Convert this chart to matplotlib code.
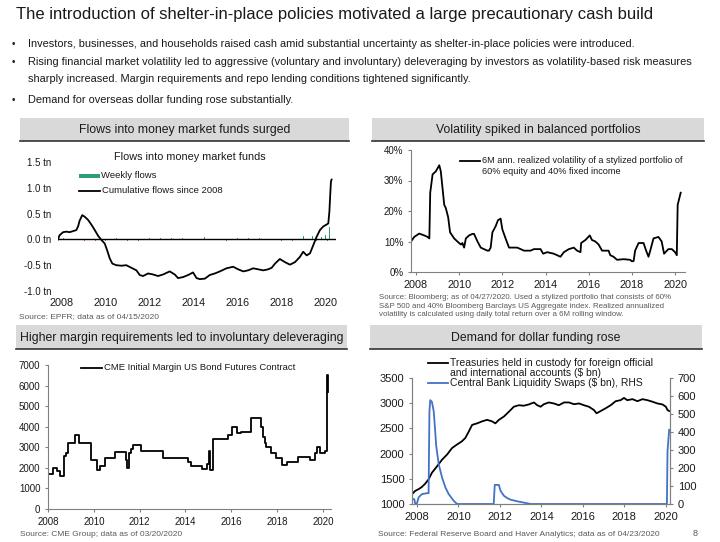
import numpy as np
import matplotlib
matplotlib.use('Agg')
import matplotlib.pyplot as plt
from matplotlib import font_manager
from matplotlib.lines import Line2D
from matplotlib.patches import Rectangle

#########################################################################
# data
#########################################################################

# flows into money market funds, cumulative since 2008 ($ tn)
flow_years = [2007.85, 2007.92, 2008.08, 2008.23, 2008.38, 2008.53, 2008.68, 2008.76, 2008.83, 2008.95,
              2009.06, 2009.21, 2009.36, 2009.52, 2009.67, 2009.82, 2009.97, 2010.08, 2010.20, 2010.32,
              2010.50, 2010.73, 2010.95, 2011.18, 2011.41, 2011.56, 2011.71, 2011.94, 2012.17, 2012.39,
              2012.62, 2012.92, 2013.15, 2013.30, 2013.53, 2013.76, 2013.98, 2014.14, 2014.29, 2014.52,
              2014.74, 2014.97, 2015.20, 2015.50, 2015.80, 2016.03, 2016.26, 2016.48, 2016.71, 2016.94,
              2017.17, 2017.39, 2017.55, 2017.70, 2017.92, 2018.15, 2018.38, 2018.61, 2018.83, 2018.98,
              2019.14, 2019.29, 2019.44, 2019.59, 2019.74, 2019.89, 2020.05, 2020.12, 2020.17, 2020.20,
              2020.24, 2020.27]
flow_cum = [0.00, 0.08, 0.14, 0.15, 0.14, 0.16, 0.18, 0.25, 0.36, 0.47,
            0.44, 0.38, 0.29, 0.18, 0.07, -0.01, -0.08, -0.21, -0.37, -0.47,
            -0.50, -0.51, -0.50, -0.55, -0.60, -0.69, -0.71, -0.66, -0.68, -0.71,
            -0.68, -0.62, -0.68, -0.75, -0.73, -0.69, -0.64, -0.75, -0.77, -0.76,
            -0.69, -0.66, -0.62, -0.56, -0.53, -0.58, -0.62, -0.60, -0.56, -0.58,
            -0.60, -0.58, -0.55, -0.47, -0.38, -0.44, -0.49, -0.44, -0.34, -0.24,
            -0.31, -0.27, -0.11, 0.05, 0.18, 0.25, 0.29, 0.31, 0.54, 0.80,
            1.12, 1.16]

# weekly flows ($ tn)
weekly_years = [2008.10, 2008.35, 2008.55, 2008.80, 2009.05, 2009.30, 2009.55, 2009.80, 2010.00, 2010.25,
                2010.50, 2010.75, 2011.00, 2011.25, 2011.50, 2011.75, 2012.00, 2012.25, 2012.50, 2012.75,
                2013.00, 2013.25, 2013.50, 2013.75, 2014.00, 2014.25, 2014.50, 2014.75, 2015.00, 2015.25,
                2015.50, 2015.75, 2016.00, 2016.25, 2016.50, 2016.75, 2017.00, 2017.25, 2017.50, 2017.75,
                2018.00, 2018.25, 2018.50, 2018.75, 2019.00, 2019.20, 2019.40, 2019.60, 2019.80, 2020.00,
                2020.10, 2020.18, 2020.24]
weekly_flows = [0.03, 0.02, -0.02, 0.04, -0.03, -0.02, -0.03, -0.04, -0.03, -0.02,
                0.02, -0.02, -0.03, 0.02, -0.03, 0.03, 0.02, -0.03, 0.02, -0.02,
                0.03, -0.04, 0.02, 0.03, -0.02, 0.02, 0.04, 0.03, -0.02, 0.02,
                -0.03, 0.03, 0.02, -0.02, 0.03, -0.02, 0.03, 0.02, -0.02, 0.03,
                -0.03, 0.04, -0.03, 0.05, 0.06, -0.03, 0.07, -0.04, 0.05, 0.08,
                -0.03, 0.25, 0.15]

# 6M annualized realized volatility of a 60/40 portfolio (%)
vol_years = [2007.77, 2007.92, 2008.15, 2008.38, 2008.54, 2008.62, 2008.66, 2008.77, 2008.92, 2009.08,
             2009.15, 2009.31, 2009.38, 2009.49, 2009.58, 2009.77, 2009.92, 2010.08, 2010.15, 2010.23,
             2010.31, 2010.46, 2010.62, 2010.69, 2010.85, 2011.00, 2011.15, 2011.31, 2011.38, 2011.46,
             2011.54, 2011.69, 2011.80, 2011.92, 2012.00, 2012.15, 2012.31, 2012.46, 2012.69, 2012.85,
             2013.00, 2013.31, 2013.46, 2013.77, 2013.89, 2014.08, 2014.38, 2014.54, 2014.69, 2014.85,
             2015.08, 2015.31, 2015.46, 2015.62, 2015.65, 2015.85, 2016.05, 2016.15, 2016.31, 2016.46,
             2016.62, 2016.92, 2017.00, 2017.15, 2017.31, 2017.62, 2017.92, 2018.00, 2018.08, 2018.15,
             2018.31, 2018.54, 2018.66, 2018.77, 2018.85, 2019.00, 2019.23, 2019.38, 2019.49, 2019.69,
             2019.85, 2020.00, 2020.08, 2020.12, 2020.26]
vol_pct = [10.0, 11.5, 12.6, 12.0, 11.5, 11.0, 26.0, 32.0, 33.0, 35.0,
           33.0, 22.0, 21.0, 18.0, 13.0, 11.0, 10.0, 9.0, 9.5, 8.0,
           11.0, 12.0, 12.5, 12.5, 10.0, 8.0, 7.5, 7.0, 7.0, 8.0,
           13.0, 15.0, 17.0, 17.5, 14.0, 11.0, 8.0, 8.0, 8.0, 7.5,
           7.0, 7.0, 7.5, 7.5, 6.0, 6.5, 6.0, 5.5, 5.0, 6.5,
           7.5, 8.0, 7.0, 6.5, 9.5, 10.5, 12.0, 10.5, 10.0, 9.0,
           7.0, 7.0, 5.5, 5.0, 4.0, 4.2, 4.0, 3.5, 3.6, 7.0,
           9.5, 9.5, 7.0, 5.0, 7.0, 11.0, 11.5, 10.0, 6.0, 7.5,
           7.5, 6.5, 5.5, 22.0, 26.0]

# CME initial margin, US bond futures contract ($), step changes
margin_years = [2008.00, 2008.20, 2008.38, 2008.52, 2008.70, 2008.77, 2008.89, 2009.18, 2009.35, 2009.86,
                2010.12, 2010.27, 2010.50, 2010.92, 2011.39, 2011.43, 2011.52, 2011.62, 2011.72, 2012.06,
                2013.00, 2014.12, 2014.22, 2014.70, 2014.92, 2015.01, 2015.06, 2015.18, 2015.86, 2016.04,
                2016.23, 2016.43, 2016.84, 2017.29, 2017.39, 2017.46, 2017.53, 2017.75, 2017.97, 2018.23,
                2018.41, 2018.92, 2019.42, 2019.64, 2019.72, 2019.86, 2020.08, 2020.17, 2020.19, 2020.21]
margin_usd = [1700, 2000, 1850, 1600, 2600, 2700, 3200, 3600, 3200, 2400,
              1900, 2100, 2500, 2750, 2400, 2000, 2700, 2900, 3100, 2800,
              2500, 2300, 2100, 1950, 2200, 2800, 1900, 3400, 3600, 4000,
              3700, 3750, 4400, 4000, 3500, 3200, 3000, 2700, 2500, 2150,
              2300, 2550, 2400, 2700, 3000, 2700, 2800, 5700, 6500, 5700]

# treasuries held in custody for foreign official and international accounts ($ bn)
tsy_years = [2007.76, 2007.92, 2008.08, 2008.24, 2008.40, 2008.56, 2008.72, 2008.97, 2009.21, 2009.45,
             2009.69, 2009.93, 2010.17, 2010.33, 2010.50, 2010.66, 2010.90, 2011.14, 2011.38, 2011.62,
             2011.78, 2011.95, 2012.19, 2012.43, 2012.67, 2012.91, 2013.15, 2013.39, 2013.64, 2013.80,
             2013.96, 2014.12, 2014.36, 2014.60, 2014.84, 2015.09, 2015.33, 2015.57, 2015.81, 2016.05,
             2016.29, 2016.53, 2016.66, 2016.86, 2017.10, 2017.34, 2017.58, 2017.82, 2017.98, 2018.14,
             2018.39, 2018.63, 2018.87, 2019.11, 2019.35, 2019.59, 2019.84, 2020.00, 2020.08, 2020.16]
tsy_bn = [1196, 1262, 1295, 1340, 1405, 1490, 1620, 1750, 1880, 1980,
          2110, 2180, 2245, 2310, 2440, 2570, 2600, 2640, 2670, 2640,
          2600, 2670, 2735, 2830, 2930, 2960, 2950, 2975, 3015, 2960,
          2930, 2980, 3015, 2995, 2960, 3015, 3015, 2980, 2995, 2960,
          2930, 2865, 2800, 2845, 2900, 2960, 3040, 3060, 3105, 3060,
          3080, 3040, 3080, 3060, 3030, 2995, 2975, 2930, 2865, 2845]

# central bank liquidity swaps ($ bn, right axis)
swap_years = [2007.76, 2007.87, 2007.92, 2008.00, 2008.08, 2008.24, 2008.48, 2008.56, 2008.60, 2008.64,
              2008.72, 2008.81, 2008.93, 2009.05, 2009.21, 2009.37, 2009.53, 2009.77, 2009.93, 2011.70,
              2011.75, 2011.95, 2012.03, 2012.19, 2012.35, 2012.51, 2012.83, 2013.31, 2013.48, 2020.05,
              2020.08, 2020.16]
swap_bn = [27, 27, 0, 4, 37, 55, 60, 60, 513, 577,
           568, 513, 320, 220, 147, 92, 55, 18, 0, 0,
           106, 106, 73, 46, 33, 24, 15, 4, 0, 0,
           293, 412]

year_ticks = [2008, 2010, 2012, 2014, 2016, 2018, 2020]
flow_ticks = [-1.0, -0.5, 0.0, 0.5, 1.0, 1.5]
flow_tick_labels = ['-1.0 tn', '-0.5 tn', '0.0 tn', '0.5 tn', '1.0 tn', '1.5 tn']
vol_ticks = [0, 10, 20, 30, 40]
vol_tick_labels = ['0%', '10%', '20%', '30%', '40%']

title = 'The introduction of shelter-in-place policies motivated a large precautionary cash build'
bullets = ['Investors, businesses, and households raised cash amid substantial uncertainty as shelter-in-place policies were introduced.',
           'Rising financial market volatility led to aggressive (voluntary and involuntary) deleveraging by investors as volatility-based risk measures',
           'sharply increased. Margin requirements and repo lending conditions tightened significantly.',
           'Demand for overseas dollar funding rose substantially.']

#########################################################################
# style
#########################################################################

installed = set(f.name for f in font_manager.fontManager.ttflist)
if 'Liberation Sans Narrow' in installed:
    base_font, k = 'Liberation Sans Narrow', 1.2
else:
    base_font, k = 'Liberation Sans', 1.0
plt.rcParams['font.family'] = [base_font, 'DejaVu Sans']
plt.rcParams['axes.unicode_minus'] = False

ink = '#1a1a1a'
grey_txt = '#595959'
spine_col = '#808080'
blue = '#4472c4'
green = '#2e9e72'
red = '#d9534f'

W, H = 720.0, 542.0

def fx(x):
    return x / W

def fy(y):
    return 1 - y / H

def box(l, t, r, b):
    return [l / W, 1 - b / H, (r - l) / W, (b - t) / H]

fig = plt.figure(figsize=(7.2, 5.42), dpi=100)

def header(l, t, r, b, text):
    fig.add_artist(Rectangle((fx(l), fy(b)), fx(r) - fx(l), fy(t) - fy(b), transform=fig.transFigure,
                             facecolor='#d9d9d9', edgecolor='none'))
    fig.add_artist(Line2D([fx(l), fx(r)], [fy(b), fy(b)], transform=fig.transFigure, color='#333333', lw=1.2))
    fig.text(fx((l + r) / 2), fy((t + b) / 2 + 0.5), text, ha='center', va='center', fontsize=8.8 * k, color=ink)

def key(x0, x1, y, color, text, size=6.8, spacing=1.05):
    fig.add_artist(Line2D([fx(x0), fx(x1)], [fy(y), fy(y)], transform=fig.transFigure, color=color, lw=1.3))
    fig.text(fx(x1 + 2), fy(y - 5), text, va='top', fontsize=size * k, color=ink, linespacing=spacing)

def axis_style(ax, sides=('left', 'bottom'), xsize=7.8, ysize=7.0):
    for s in ['left', 'right', 'top', 'bottom']:
        ax.spines[s].set_visible(s in sides)
        ax.spines[s].set_color(spine_col)
        ax.spines[s].set_linewidth(0.8)
    ax.tick_params(direction='out', length=2.5, width=0.8, color=spine_col,
                   labelcolor=ink, pad=3)
    ax.tick_params(axis='x', labelsize=xsize * k)
    ax.tick_params(axis='y', labelsize=ysize * k)
    ax.set_xticks(year_ticks)
    ax.patch.set_alpha(0)

#########################################################################
# title and bullets
#########################################################################

fig.text(fx(16), fy(15), title, va='center', fontsize=12 * k, color=ink)
bullet_y = [44, 62, 79, 100]
for i, (line, y) in enumerate(zip(bullets, bullet_y)):
    if i != 2:
        fig.text(fx(12), fy(y), u'\u2022', va='center', fontsize=7 * k, color=ink)
    fig.text(fx(28), fy(y), line, va='center', fontsize=7.95 * k, color=ink)

#########################################################################
# top left: money market fund flows
#########################################################################

header(20, 118, 349, 141, 'Flows into money market funds surged')
ax1 = fig.add_axes(box(58, 162, 336, 291))
axis_style(ax1, sides=())
ax1.tick_params(length=0, pad=5)
bar_cols = [green if v > 0 else red for v in weekly_flows]
ax1.bar(weekly_years, weekly_flows, width=0.035, color=bar_cols, linewidth=0, zorder=2)
ax1.axhline(0, color='black', lw=1.0, zorder=3)
ax1.plot(flow_years, flow_cum, color='black', lw=1.3, zorder=4)
ax1.set_xlim(2007.85, 2020.47)
ax1.set_ylim(-1.0, 1.5)
ax1.set_yticks(flow_ticks)
ax1.set_yticklabels(flow_tick_labels)
fig.text(fx(190), fy(157), 'Flows into money market funds', ha='center', va='center', fontsize=7.8 * k, color=ink)
fig.add_artist(Rectangle((fx(79), fy(178)), fx(21), fy(174) - fy(178), transform=fig.transFigure,
                         facecolor=green, edgecolor='none'))
fig.text(fx(101), fy(176), 'Weekly flows', va='center', fontsize=6.8 * k, color=ink)
key(79, 100, 191, 'black', 'Cumulative flows since 2008')
fig.text(fx(19), fy(317), 'Source: EPFR; data as of 04/15/2020', va='center', fontsize=6 * k, color=grey_txt)

#########################################################################
# top right: balanced portfolio volatility
#########################################################################

header(372, 118, 704, 141, 'Volatility spiked in balanced portfolios')
ax2 = fig.add_axes(box(411, 150, 685, 272))
axis_style(ax2)
ax2.plot(vol_years, vol_pct, color='black', lw=1.3)
ax2.set_xlim(2007.77, 2020.46)
ax2.set_ylim(0, 40)
ax2.set_yticks(vol_ticks)
ax2.set_yticklabels(vol_tick_labels)
key(460, 480, 161, 'black', '6M ann. realized volatility of a stylized portfolio of\n60% equity and 40% fixed income',
    size=6.6, spacing=1.3)
fig.text(fx(379), fy(294), 'Source: Bloomberg; as of 04/27/2020. Used a stylized portfolio that consists of 60%\n'
         'S&P 500 and 40% Bloomberg Barclays US Aggregate index. Realized annualized\n'
         'volatility is calculated using daily total return over a 6M rolling window.',
         va='top', fontsize=5.7 * k, color=grey_txt, linespacing=1.35)

#########################################################################
# bottom left: CME margin
#########################################################################

header(16, 325, 347, 349, 'Higher margin requirements led to involuntary deleveraging')
ax3 = fig.add_axes(box(48, 365, 331, 509))
axis_style(ax3, xsize=7.0)
ax3.plot(margin_years, margin_usd, color='black', lw=1.3, drawstyle='steps-post')
ax3.set_xlim(2008, 2020.35)
ax3.set_ylim(0, 7000)
ax3.set_yticks(np.arange(0, 7001, 1000))
key(81, 102, 368, 'black', 'CME Initial Margin US Bond Futures Contract')
fig.text(fx(20), fy(535), 'Source: CME Group; data as of 03/20/2020', va='center', fontsize=6 * k, color=grey_txt)

#########################################################################
# bottom right: dollar funding
#########################################################################

header(370, 325, 702, 349, 'Demand for dollar funding rose')
ax4 = fig.add_axes(box(412, 378, 670, 504))
axis_style(ax4, sides=('left', 'bottom', 'right'), xsize=8.0, ysize=8.0)
ax4.plot(tsy_years, tsy_bn, color='black', lw=1.3, zorder=3)
ax4.set_xlim(2007.76, 2020.2)
ax4.set_ylim(1000, 3500)
ax4.set_yticks(np.arange(1000, 3501, 500))
ax5 = ax4.twinx()
axis_style(ax5, sides=('left', 'bottom', 'right'), xsize=8.0, ysize=8.0)
ax5.plot(swap_years, swap_bn, color=blue, lw=1.3, zorder=2)
ax5.set_ylim(0, 700)
ax5.set_yticks(np.arange(0, 701, 100))
ax5.set_xlim(2007.76, 2020.2)
key(428, 448, 363, 'black', 'Treasuries held in custody for foreign official\nand international accounts ($ bn)', size=7.5)
key(428, 448, 383, blue, 'Central Bank Liquidity Swaps ($ bn), RHS', size=7.5)
fig.text(fx(378), fy(534), 'Source: Federal Reserve Board and Haver Analytics; data as of 04/23/2020',
         va='center', fontsize=6 * k, color=grey_txt)
fig.text(fx(693), fy(534), '8', va='center', fontsize=6.5 * k, color=grey_txt)

plt.savefig('out.png', dpi=100)
